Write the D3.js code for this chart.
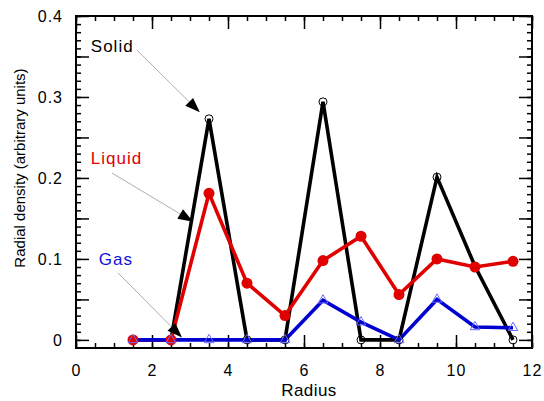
<!DOCTYPE html>
<html><head><meta charset="utf-8">
<script src="https://cdn.jsdelivr.net/npm/d3@7"></script>
<style>
body{margin:0;background:#fff;}
svg text{font-family:"Liberation Sans",Arial,Helvetica,sans-serif;}
</style></head>
<body><svg id="c" width="544" height="401"></svg>
<script>
const radius = [1.5,2.5,3.5,4.5,5.5,6.5,7.5,8.5,9.5,10.5,11.5];
const solid  = [0,0,0.273,0,0,0.294,0,0,0.201,0.091,0];
const liquid = [0,0,0.181,0.070,0.030,0.098,0.128,0.056,0.100,0.090,0.097];
const gas    = [0,0,0,0,0,0.049,0.022,0,0.050,0.016,0.015];
const xTickLabels = [0,2,4,6,8,10,12];
const yTickLabels = [0,0.1,0.2,0.3,0.4];
const labels = ["Solid","Liquid","Gas"];
// annotation anchors in data units: text pos, line start, arrow tip
const annText  = [[0.39,0.356],[0.39,0.217],[0.6,0.093]];
const annStart = [[1.6,0.358],[0.95,0.206],[1.1,0.083]];
const annTip   = [[3.26,0.281],[3.08,0.146],[2.79,0.003]];

const svg = d3.select("#c");
const L=76,R=532,T=16,B=348;
const x = d3.scaleLinear().domain([0,12]).range([L,R]);
const y = d3.scaleLinear().domain([-0.01,0.4]).range([B,T]);

const g = svg.append("g");
function styleAxis(sel){
  sel.select(".domain").remove();
  sel.selectAll(".tick line").attr("stroke","#000").attr("stroke-width",1.5);
  sel.selectAll("text").attr("font-size",16).attr("letter-spacing",1).attr("fill","#000").attr("font-family","Liberation Sans, Arial, sans-serif");
}
const xMinor = d3.range(0,12.01,0.5);
const xMajor = xTickLabels;
const yMinor = d3.range(0,0.4001,0.01).map(v=>+v.toFixed(2));
const yMajor = d3.range(0,0.4001,0.05).map(v=>+v.toFixed(2));
// bottom
g.append("g").attr("transform",`translate(0,${B})`).call(d3.axisBottom(x).tickValues(xMinor).tickSizeInner(-5).tickSizeOuter(0).tickFormat("")).call(styleAxis);
g.append("g").attr("transform",`translate(0,${B})`).call(d3.axisBottom(x).tickValues(xMajor).tickSizeInner(-13).tickSizeOuter(0).tickPadding(17).tickFormat(d3.format("d"))).call(styleAxis);
// top
g.append("g").attr("transform",`translate(0,${T})`).call(d3.axisTop(x).tickValues(xMinor).tickSizeInner(-5).tickSizeOuter(0).tickFormat("")).call(styleAxis);
g.append("g").attr("transform",`translate(0,${T})`).call(d3.axisTop(x).tickValues(xMajor).tickSizeInner(-13).tickSizeOuter(0).tickFormat("")).call(styleAxis);
// left
g.append("g").attr("transform",`translate(${L},0)`).call(d3.axisLeft(y).tickValues(yMinor).tickSizeInner(-5).tickSizeOuter(0).tickFormat("")).call(styleAxis);
g.append("g").attr("transform",`translate(${L},0)`).call(d3.axisLeft(y).tickValues(yMajor).tickSizeInner(-13).tickSizeOuter(0).tickFormat("")).call(styleAxis);
g.append("g").attr("transform",`translate(${L},0)`).call(d3.axisLeft(y).tickValues(yTickLabels).tickSizeInner(0).tickSizeOuter(0).tickPadding(13).tickFormat(d=>d===0?"0":d3.format(".1f")(d))).call(styleAxis);
// right
g.append("g").attr("transform",`translate(${R},0)`).call(d3.axisRight(y).tickValues(yMinor).tickSizeInner(-5).tickSizeOuter(0).tickFormat("")).call(styleAxis);
g.append("g").attr("transform",`translate(${R},0)`).call(d3.axisRight(y).tickValues(yMajor).tickSizeInner(-13).tickSizeOuter(0).tickFormat("")).call(styleAxis);
// frame
svg.append("rect").attr("x",L).attr("y",T).attr("width",R-L).attr("height",B-T).attr("fill","none").attr("stroke","#000").attr("stroke-width",2);

// axis titles
svg.append("text").attr("x",309).attr("y",396).attr("text-anchor","middle").attr("font-size",17).attr("letter-spacing",0.4).text("Radius");
svg.append("text").attr("transform",`translate(25,168) rotate(-90)`).attr("text-anchor","middle").attr("font-size",15).text("Radial density (arbitrary units)");

const series = [
  {vals:solid, color:"#000000"},
  {vals:liquid, color:"#e00000"},
  {vals:gas, color:"#0000d0"}
];
const line = d3.line().x((d,i)=>x(radius[i])).y(d=>y(d));
series.forEach(s=>{
  svg.append("path").datum(s.vals).attr("d",line).attr("fill","none").attr("stroke",s.color).attr("stroke-width",3.6).attr("stroke-linejoin","miter");
});
// markers
svg.append("g").selectAll("circle").data(solid).join("circle")
  .attr("cx",(d,i)=>x(radius[i])).attr("cy",d=>y(d)).attr("r",4).attr("fill","none").attr("stroke","#000").attr("stroke-width",1);
svg.append("g").selectAll("circle").data(liquid).join("circle")
  .attr("cx",(d,i)=>x(radius[i])).attr("cy",d=>y(d)).attr("r",5.5).attr("fill","#e00000");
const tri = d3.symbol().type(d3.symbolTriangle).size(40);
svg.append("g").selectAll("path").data(gas).join("path")
  .attr("transform",(d,i)=>`translate(${x(radius[i])},${y(d)})`).attr("d",tri).attr("fill","none").attr("stroke","#6a6aff").attr("stroke-width",1);

// annotations
const annColors = ["#000000","#e00000","#1010e0"];
labels.forEach((lab,i)=>{
  svg.append("text").attr("x",x(annText[i][0])).attr("y",y(annText[i][1])).attr("font-size",17).attr("letter-spacing",1).attr("fill",annColors[i]).text(lab);
  const x0=x(annStart[i][0]), y0=y(annStart[i][1]), x1=x(annTip[i][0]), y1=y(annTip[i][1]);
  const ang=Math.atan2(y1-y0,x1-x0), len=15, hw=5.5;
  const bx=x1-len*Math.cos(ang), by=y1-len*Math.sin(ang);
  svg.append("line").attr("x1",x0).attr("y1",y0).attr("x2",bx).attr("y2",by).attr("stroke","#999").attr("stroke-width",0.8);
  const px=-Math.sin(ang), py=Math.cos(ang);
  svg.append("path").attr("d",`M${x1},${y1}L${bx+hw*px},${by+hw*py}L${bx-hw*px},${by-hw*py}Z`).attr("fill","#000");
});
</script></body></html>
